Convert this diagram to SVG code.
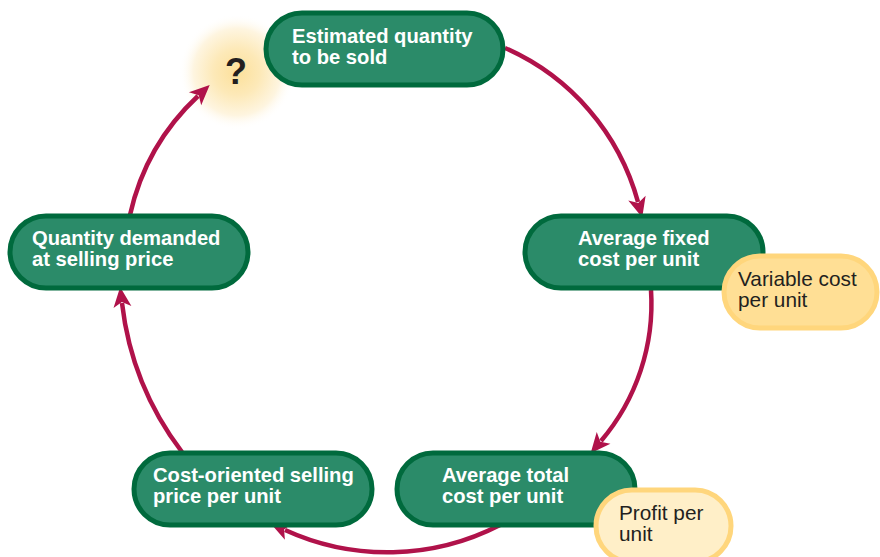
<svg xmlns="http://www.w3.org/2000/svg" width="880" height="557" viewBox="0 0 880 557">
<style>
.node rect{fill:#2B8B69;stroke:#006A3D;stroke-width:5}
.node text{font-family:"Liberation Sans",Arial,sans-serif;font-weight:bold;font-size:20.2px;fill:#ffffff}
.note rect{stroke:#FFD67C;stroke-width:5}
.note text{font-family:"Liberation Sans",Arial,sans-serif;font-size:20.8px;fill:#231F20}
.conn path{fill:none;stroke:#B0124A;stroke-width:4.5;marker-end:url(#ah)}
</style>
<defs>
<marker id="ah" markerUnits="userSpaceOnUse" viewBox="-5 -10 22 20" refX="0" refY="0" markerWidth="22" markerHeight="20" orient="auto">
<path d="M-4,-9 L16,0 L-4,9 L1,0 Z" fill="#B0124A"/>
</marker>
<radialGradient id="glow" cx="0.5" cy="0.5" r="0.5">
<stop offset="0" stop-color="#FCE09A"/>
<stop offset="0.4" stop-color="#FDE9B8"/>
<stop offset="0.75" stop-color="#FEF5E0"/>
<stop offset="1" stop-color="#FFFFFF" stop-opacity="0"/>
</radialGradient>
</defs>
<rect width="880" height="557" fill="#ffffff"/>
<g id="question">
<circle cx="237" cy="72" r="58" fill="url(#glow)"/>
<text x="236" y="84" text-anchor="middle" font-family="'Liberation Sans',Arial,sans-serif" font-weight="bold" font-size="36" fill="#231F20">?</text>
</g>
<g id="connectors" class="conn">
<path d="M505,48 A236,236 0 0 1 638,202"/>
<path d="M651,290 A212,212 0 0 1 601,441"/>
<path d="M500,525 A246,246 0 0 1 285,530"/>
<path d="M182,452 A303,303 0 0 1 122,303"/>
<path d="M130,215 A231,231 0 0 1 198,96"/>
</g>
<g id="n-estimated" class="node">
<rect x="266" y="13" width="237" height="72" rx="36"/>
<text x="292" y="43">Estimated quantity</text>
<text x="292" y="64">to be sold</text>
</g>
<g id="n-afc" class="node">
<rect x="525" y="216" width="238" height="72" rx="36"/>
<text x="578" y="245">Average fixed</text>
<text x="578" y="266">cost per unit</text>
</g>
<g id="n-atc" class="node">
<rect x="397" y="453" width="238" height="72" rx="36"/>
<text x="442" y="482">Average total</text>
<text x="442" y="503">cost per unit</text>
</g>
<g id="n-cost" class="node">
<rect x="134" y="453" width="238" height="72" rx="36"/>
<text x="153" y="482">Cost-oriented selling</text>
<text x="153" y="503">price per unit</text>
</g>
<g id="n-qd" class="node">
<rect x="10" y="216" width="238" height="72" rx="36"/>
<text x="32" y="245">Quantity demanded</text>
<text x="32" y="266">at selling price</text>
</g>
<g id="n-vc" class="note">
<rect x="724" y="256" width="153" height="72" rx="36" fill="#FFDF95"/>
<text x="738" y="286">Variable cost</text>
<text x="738" y="307">per unit</text>
</g>
<g id="n-profit" class="note">
<rect x="596" y="490" width="135" height="72" rx="36" fill="#FFEFC8"/>
<text x="619" y="520">Profit per</text>
<text x="619" y="541">unit</text>
</g>
</svg>
